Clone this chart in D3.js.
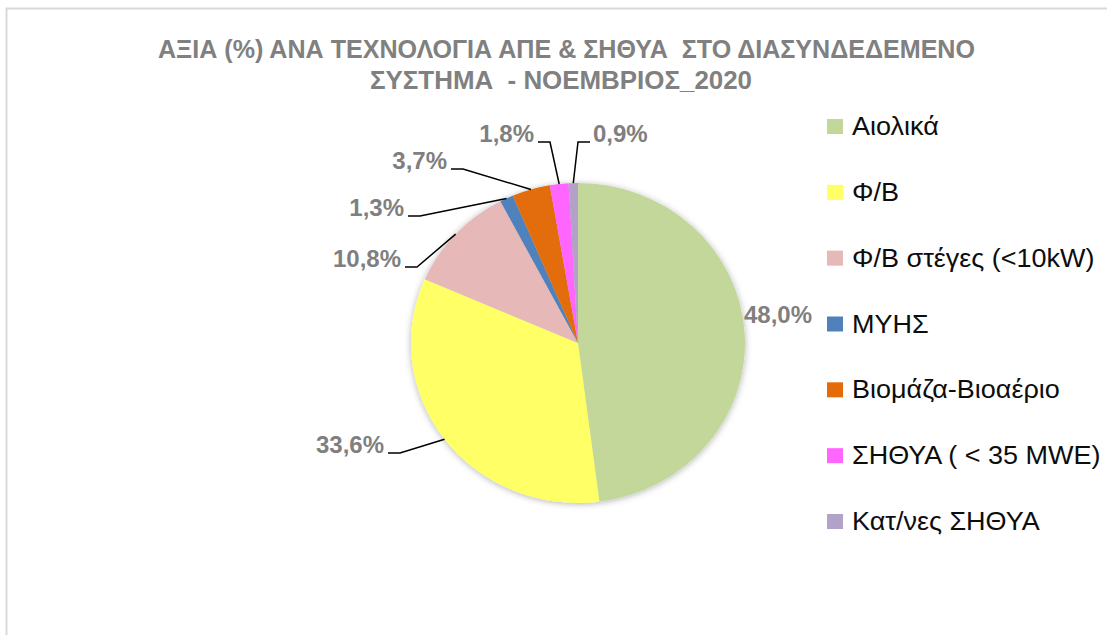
<!DOCTYPE html>
<html>
<head>
<meta charset="utf-8">
<script src="https://cdn.jsdelivr.net/npm/d3@7"></script>
<style>
  body { margin: 0; background: #fff; }
  text { white-space: pre; }
</style>
</head>
<body>
<div id="chart"></div>
<script>
// data
var categories = ["Αιολικά", "Φ/Β", "Φ/Β στέγες (<10kW)", "ΜΥΗΣ", "Βιομάζα-Βιοαέριο", "ΣΗΘΥΑ ( < 35 MWE)", "Κατ/νες ΣΗΘΥΑ"];
var shares = [48.0, 33.6, 10.8, 1.3, 3.7, 1.8, 0.9];
var labels = ["48,0%", "33,6%", "10,8%", "1,3%", "3,7%", "1,8%", "0,9%"];
var colors = ["#C4D79B", "#FFFF66", "#E6B9B8", "#4F81BD", "#E36C09", "#FF66FF", "#B3A2C7"];
var titleLines = ["ΑΞΙΑ (%) ΑΝΑ ΤΕΧΝΟΛΟΓΙΑ ΑΠΕ & ΣΗΘΥΑ  ΣΤΟ ΔΙΑΣΥΝΔΕΔΕΜΕΝΟ", "ΣΥΣΤΗΜΑ  - ΝΟΕΜΒΡΙΟΣ_2020"];

// label layout: elbow offset from pie centre, side of text
var labelLayout = [
  {dx: 166, dy: -20, side: "none"},
  {dx: -178, dy: 110, side: "left"},
  {dx: -161, dy: -76, side: "left"},
  {dx: -158, dy: -127, side: "left"},
  {dx: -115, dy: -174, side: "left"},
  {dx: -28, dy: -201, side: "left"},
  {dx: 0, dy: -201, side: "right"}
];

var width = 1107, height = 635;
var cx = 578, cy = 343, rx = 167, ry = 160;

var svg = d3.select("#chart").append("svg")
  .attr("width", width)
  .attr("height", height);

svg.append("rect")
  .attr("x", 6.5).attr("y", 8.5)
  .attr("width", 1200).attr("height", 700)
  .attr("fill", "#fff")
  .attr("stroke", "#d9d9d9")
  .attr("stroke-width", 2);

var defs = svg.append("defs");
var f = defs.append("filter").attr("id", "shadow")
  .attr("x", "-20%").attr("y", "-20%").attr("width", "140%").attr("height", "140%");
f.append("feDropShadow")
  .attr("dx", 0).attr("dy", 1)
  .attr("stdDeviation", 3.5)
  .attr("flood-color", "#000")
  .attr("flood-opacity", 0.3);

// title
var titleX = [158, 370], titleW = [817, 382], titleY = [58, 89];
svg.selectAll(".title").data(titleLines).enter().append("text")
  .attr("class", "title")
  .attr("x", (d, i) => titleX[i])
  .attr("y", (d, i) => titleY[i])
  .attr("textLength", (d, i) => titleW[i])
  .attr("lengthAdjust", "spacingAndGlyphs")
  .attr("font-family", "'Liberation Sans', sans-serif")
  .attr("font-weight", "bold")
  .attr("font-size", 26)
  .attr("fill", "#808080")
  .text(d => d);

// pie
var pie = d3.pie().sort(null).value(d => d)(shares);
var arc = d3.arc().innerRadius(0).outerRadius(rx);

var g = svg.append("g")
  .attr("transform", "translate(" + cx + "," + cy + ") scale(1," + (ry / rx) + ")")
  .attr("filter", "url(#shadow)");

g.selectAll("path").data(pie).enter().append("path")
  .attr("d", arc)
  .attr("fill", (d, i) => colors[i]);

// labels + leader lines
pie.forEach(function(d, i) {
  var a = (d.startAngle + d.endAngle) / 2;
  var ax = cx + rx * Math.sin(a), ay = cy - ry * Math.cos(a);
  var L = labelLayout[i];
  var ex = cx + L.dx, ey = cy + L.dy;
  var t = svg.append("text")
    .attr("font-family", "'Liberation Sans', Arial, sans-serif")
    .attr("font-weight", "bold")
    .attr("font-size", 24)
    .attr("fill", "#7f7f7f")
    .text(labels[i]);
  if (L.side == "none") {
    t.attr("x", ex).attr("y", ey);
    return;
  }
  var hx = L.side == "left" ? ex - 12 : ex + 12;
  svg.append("polyline")
    .attr("points", [[hx, ey], [ex, ey], [ax, ay]].map(p => p.join(",")).join(" "))
    .attr("fill", "none")
    .attr("stroke", "#000")
    .attr("stroke-width", 1.5);
  t.attr("x", L.side == "left" ? hx - 4 : hx + 3)
    .attr("y", ey)
    .attr("text-anchor", L.side == "left" ? "end" : "start");
});

// legend
var legendY = d3.scalePoint().domain(categories).range([135, 530]);
var leg = svg.selectAll(".leg").data(categories).enter().append("g")
  .attr("class", "leg")
  .attr("transform", d => "translate(827," + legendY(d) + ")");
leg.append("rect")
  .attr("x", 0).attr("y", -16)
  .attr("width", 16).attr("height", 15)
  .attr("fill", (d, i) => colors[i]);
leg.append("text")
  .attr("transform", "translate(25,0) scale(1.08,1)")
  .attr("font-family", "'Liberation Sans', sans-serif")
  .attr("font-size", 25)
  .attr("fill", "#0d0d0d")
  .text(d => d);
</script>
</body>
</html>
